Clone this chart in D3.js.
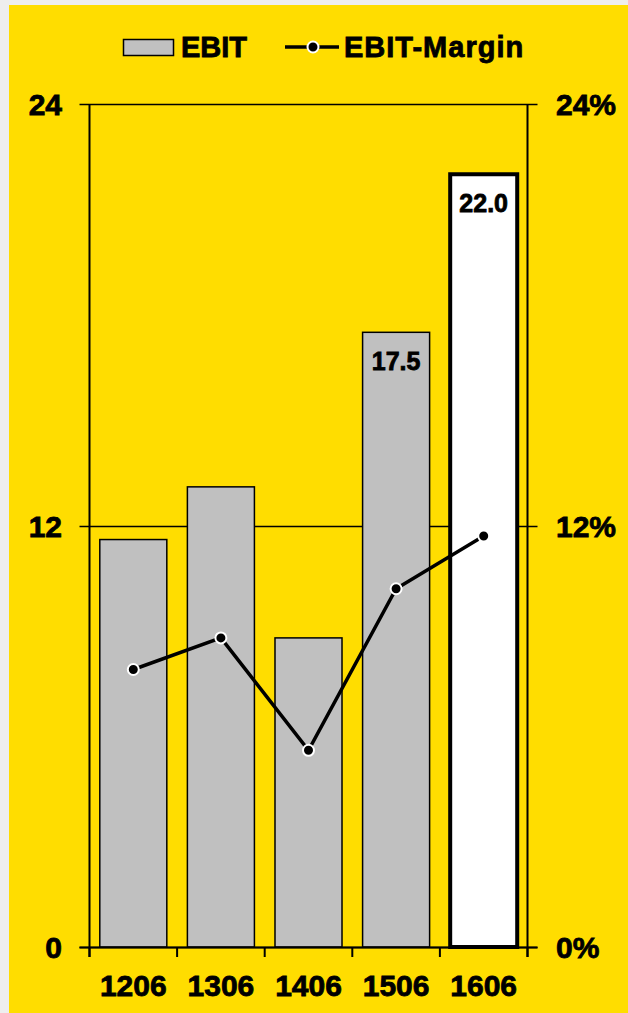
<!DOCTYPE html>
<html>
<head>
<meta charset="utf-8">
<script src="https://cdn.jsdelivr.net/npm/d3@7"></script>
<style>
  html, body { margin: 0; padding: 0; background: #EEEEEE; }
  svg { display: block; }
  text { font-family: "Liberation Sans", Arial, sans-serif; font-weight: bold; fill: #000;
         stroke: #000; stroke-width: 0.8px; }
</style>
</head>
<body>
<svg id="chart" width="628" height="1013"></svg>
<script>
// Quarterly periods (YYMM)
const periods = ["1206", "1306", "1406", "1506", "1606"];
// EBIT (left axis)
const ebit = [11.6, 13.1, 8.8, 17.5, 22.0];
// EBIT margin in % (right axis)
const margin = [7.9, 8.8, 5.6, 10.2, 11.7];
// Values printed on the bars
const labelled = [false, false, false, true, true];
// Axis ticks
const leftTicks = [0, 12, 24];
const rightTicks = [0, 12, 24];

const W = 628, H = 1013;
const svg = d3.select("#chart");

// yellow panel with thin grey frame top/left
svg.append("rect").attr("x", 9).attr("y", 5).attr("width", W - 9).attr("height", H - 5)
  .attr("fill", "#FFDD00");

const plot = { left: 89.5, right: 527.5, top: 104, bottom: 947 };

const x = d3.scaleBand().domain(periods).range([plot.left, plot.right]).paddingInner(0.235).paddingOuter(0.1175);
const yL = d3.scaleLinear().domain([0, 24]).range([plot.bottom, plot.top]);
const yR = d3.scaleLinear().domain([0, 24]).range([plot.bottom, plot.top]);

const g = svg.append("g");

// horizontal grid lines with outer ticks
g.selectAll("line.grid").data(leftTicks).join("line")
  .attr("x1", plot.left - 10).attr("x2", plot.right + 10)
  .attr("y1", d => Math.round(yL(d)) + 0.5).attr("y2", d => Math.round(yL(d)) + 0.5)
  .attr("stroke", "#000").attr("stroke-width", 1.5);

// vertical axis lines
[plot.left, plot.right].forEach(px => {
  g.append("line").attr("x1", px).attr("x2", px)
    .attr("y1", plot.top).attr("y2", plot.bottom + 10)
    .attr("stroke", "#000").attr("stroke-width", 2);
});

// bars
g.selectAll("rect.bar").data(periods).join("rect")
  .attr("x", d => x(d))
  .attr("width", x.bandwidth())
  .attr("y", (d, i) => yL(ebit[i]))
  .attr("height", (d, i) => plot.bottom - yL(ebit[i]))
  .attr("fill", (d, i) => i === periods.length - 1 ? "#FFFFFF" : "#C0C0C0")
  .attr("stroke", "#000")
  .attr("stroke-width", (d, i) => i === periods.length - 1 ? 4 : 1.5);

// bottom axis line and category separators
g.append("line").attr("x1", plot.left - 10).attr("x2", plot.right + 10)
  .attr("y1", plot.bottom + 0.5).attr("y2", plot.bottom + 0.5)
  .attr("stroke", "#000").attr("stroke-width", 2);
const seps = d3.range(periods.length + 1).map(i => plot.left + i * (plot.right - plot.left) / periods.length);
g.selectAll("line.sep").data(seps).join("line")
  .attr("x1", d => d).attr("x2", d => d)
  .attr("y1", plot.bottom).attr("y2", plot.bottom + 10)
  .attr("stroke", "#000").attr("stroke-width", 2);

// value labels inside bars
g.selectAll("text.val").data(periods.filter((d, i) => labelled[i])).join("text")
  .attr("x", d => x(d) + x.bandwidth() / 2)
  .attr("y", d => yL(ebit[periods.indexOf(d)]) + 38)
  .attr("text-anchor", "middle")
  .attr("font-size", 25)
  .text(d => ebit[periods.indexOf(d)].toFixed(1));

// margin line
const line = d3.line()
  .x((d, i) => x(periods[i]) + x.bandwidth() / 2)
  .y(d => yR(d));
g.append("path").datum(margin).attr("d", line)
  .attr("fill", "none").attr("stroke", "#000").attr("stroke-width", 3.5);
g.selectAll("circle.pt").data(margin).join("circle")
  .attr("cx", (d, i) => x(periods[i]) + x.bandwidth() / 2)
  .attr("cy", d => yR(d))
  .attr("r", 5.5)
  .attr("fill", "#000").attr("stroke", "#FFF").attr("stroke-width", 2);

// axis labels
g.selectAll("text.yl").data(leftTicks).join("text")
  .attr("x", 62).attr("y", d => yL(d) + 11)
  .attr("text-anchor", "end").attr("font-size", 30)
  .text(d => d);
g.selectAll("text.yr").data(rightTicks).join("text")
  .attr("x", 556).attr("y", d => yR(d) + 11)
  .attr("text-anchor", "start").attr("font-size", 30)
  .text(d => d + "%");
g.selectAll("text.xl").data(periods).join("text")
  .attr("x", d => x(d) + x.bandwidth() / 2)
  .attr("y", 996)
  .attr("text-anchor", "middle").attr("font-size", 30)
  .text(d => d);

// legend
const lg = svg.append("g");
lg.append("rect").attr("x", 123.5).attr("y", 39.5).attr("width", 50).attr("height", 16)
  .attr("fill", "#C0C0C0").attr("stroke", "#000").attr("stroke-width", 1.5);
lg.append("text").attr("x", 181).attr("y", 57).attr("font-size", 29).text("EBIT");
lg.append("line").attr("x1", 285).attr("x2", 339).attr("y1", 47).attr("y2", 47)
  .attr("stroke", "#000").attr("stroke-width", 3.5);
lg.append("circle").attr("cx", 313).attr("cy", 47).attr("r", 5.5)
  .attr("fill", "#000").attr("stroke", "#FFF").attr("stroke-width", 2);
lg.append("text").attr("x", 344).attr("y", 57).attr("font-size", 29)
  .attr("letter-spacing", 1).text("EBIT-Margin");
</script>
</body>
</html>
